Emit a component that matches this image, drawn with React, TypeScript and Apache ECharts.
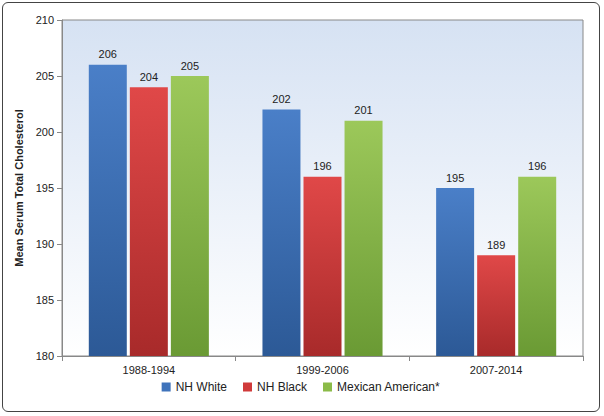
import React, { useEffect, useRef } from "react";
import * as echarts from "echarts";

const categories = ["1988-1994", "1999-2006", "2007-2014"];
const nhWhite = [206, 202, 195];
const nhBlack = [204, 196, 189];
const mexican = [205, 201, 196];
const seriesNames = ["NH White", "NH Black", "Mexican American*"];

const grad = (top: string, bottom: string) =>
  new echarts.graphic.LinearGradient(0, 0, 0, 1, [
    { offset: 0, color: top },
    { offset: 1, color: bottom },
  ]);

export default function App() {
  const ref = useRef<HTMLDivElement>(null);
  useEffect(() => {
    const chart = echarts.init(ref.current!, null, { renderer: "svg" });
    const mk = (name: string, data: number[], top: string, bottom: string, legendColor: string) => ({
      name,
      type: "bar",
      data,
      barWidth: 38,
      barGap: "8%",
      itemStyle: { color: grad(top, bottom) },
      label: { show: true, position: "top", color: "#222", fontSize: 11, fontFamily: "Liberation Sans" },
      legendColor,
    });
    const s = [
      mk(seriesNames[0], nhWhite, "#4a7fc8", "#2c5996", "#3f73bb"),
      mk(seriesNames[1], nhBlack, "#e04848", "#a82a2a", "#d03a3a"),
      mk(seriesNames[2], mexican, "#9cc85a", "#6a9a34", "#8bbb48"),
    ];
    chart.setOption({
      animation: false,
      grid: {
        left: 60, right: 17, top: 18, bottom: 56,
        show: true,
        backgroundColor: grad("#d6e2f3", "#ffffff"),
        borderColor: "#888",
        borderWidth: 1,
      },
      legend: {
        bottom: 14,
        itemWidth: 9, itemHeight: 9, itemGap: 16,
        icon: "rect",
        textStyle: { fontSize: 12, color: "#222", fontFamily: "Liberation Sans" },
        data: s.map((x) => ({ name: x.name, itemStyle: { color: x.legendColor } })),
      },
      xAxis: {
        type: "category",
        data: categories,
        axisTick: { show: true, lineStyle: { color: "#888" } },
        axisLine: { lineStyle: { color: "#888" } },
        axisLabel: { color: "#222", fontSize: 11, fontFamily: "Liberation Sans" },
      },
      yAxis: {
        type: "value",
        min: 180, max: 210, interval: 5,
        name: "Mean Serum Total Cholesterol",
        nameLocation: "middle",
        nameGap: 34,
        nameTextStyle: { fontWeight: "bold", fontSize: 11, color: "#222", fontFamily: "Liberation Sans" },
        axisLine: { show: true, lineStyle: { color: "#888" } },
        axisTick: { show: true, lineStyle: { color: "#888" } },
        splitLine: { show: false },
        axisLabel: { color: "#222", fontSize: 11, fontFamily: "Liberation Sans" },
      },
      series: s.map(({ legendColor, ...rest }) => rest),
    });
    return () => chart.dispose();
  }, []);
  return (
    <div style={{ position: "absolute", left: 0, top: 0, width: 604, height: 416 }}>
      <div style={{ position: "absolute", left: 2, top: 2, width: 598, height: 410, border: "1px solid #444", borderRadius: 6, boxSizing: "border-box" }} />
      <div ref={ref} style={{ position: "absolute", left: 2, top: 2, width: 598, height: 410 }} />
    </div>
  );
}
